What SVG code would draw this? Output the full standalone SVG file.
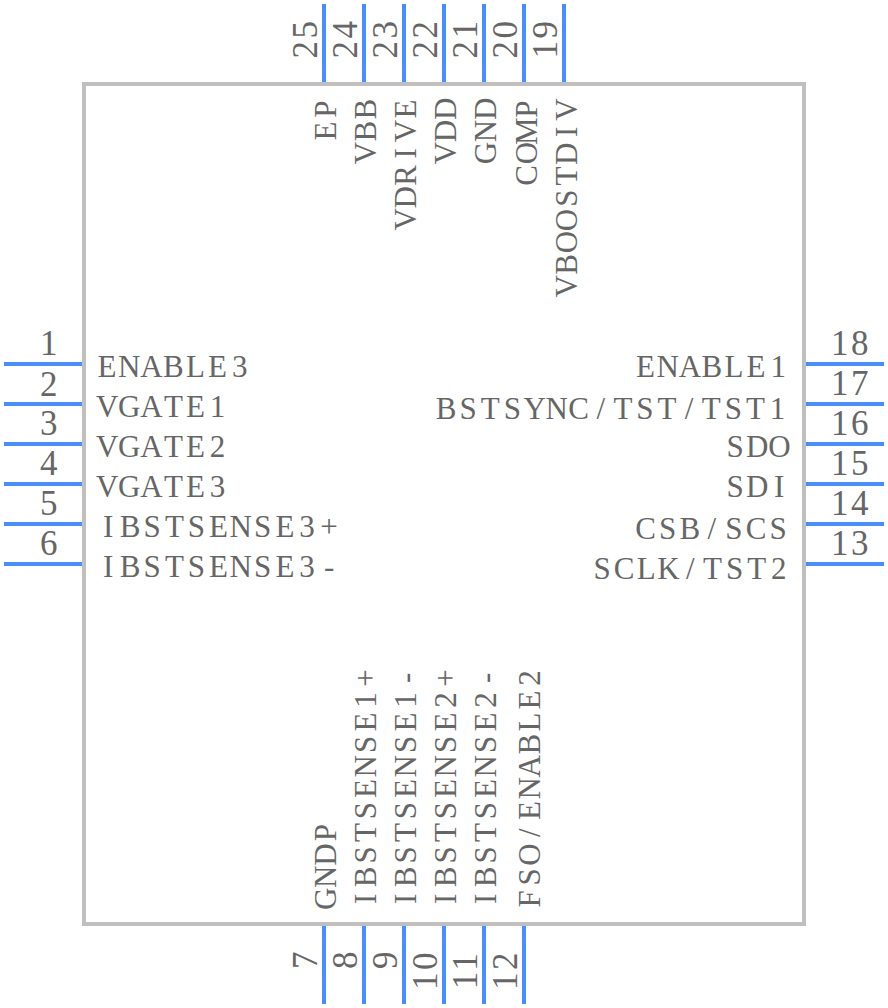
<svg xmlns="http://www.w3.org/2000/svg" width="888" height="1008" viewBox="0 0 888 1008">
<style>
text{font-family:"Liberation Serif",serif;fill:#666}
.l{font-size:31px}
.n{font-size:35px;letter-spacing:2.5px;text-anchor:middle}
.p{stroke:#4a8ff5;stroke-width:4;fill:none}
</style>
<g id="connectors">
<path class="p" d="M4 364H84M4 404H84M4 444H84M4 484H84M4 524H84M4 564H84"/>
<path class="p" d="M804 364H884M804 404H884M804 444H884M804 484H884M804 524H884M804 564H884"/>
<path class="p" d="M324 4V84M364 4V84M404 4V84M444 4V84M484 4V84M524 4V84M564 4V84"/>
<path class="p" d="M324 924V1004M364 924V1004M404 924V1004M444 924V1004M484 924V1004M524 924V1004"/>
</g>
<g id="body"><rect x="84" y="84" width="720" height="840" fill="none" stroke="#bfbfbf" stroke-width="4"/></g>
<g id="left">
<text class="n" x="50" y="355">1</text><text class="l" transform="translate(96 377)" x="1.6 22.1 44.2 67 90 112.1 135.9">ENABLE3</text>
<text class="n" x="50" y="396">2</text><text class="l" transform="translate(96 417)" x="0 22.1 44.2 67.9 90 113.8">VGATE1</text>
<text class="n" x="50" y="435">3</text><text class="l" transform="translate(96 457)" x="0 22.1 44.2 67.9 90 113.8">VGATE2</text>
<text class="n" x="50" y="475">4</text><text class="l" transform="translate(96 497)" x="0 22.1 44.2 67.9 90 113.8">VGATE3</text>
<text class="n" x="50" y="515">5</text><text class="l" transform="translate(97 537)" x="5.9 22.8 46.6 67.9 90.8 112.1 132.6 157.1 178.4 202.2 223.3">IBSTSENSE3+</text>
<text class="n" x="50" y="555">6</text><text class="l" transform="translate(97 577)" x="5.9 22.8 46.6 67.9 90.8 112.1 132.6 157.1 178.4 202.2 226.9">IBSTSENSE3-</text>
</g>
<g id="right">
<text class="n" x="851" y="355">18</text><text class="l" transform="translate(634.5 377)" x="1.6 22.1 44.2 67 90 112.1 135.9">ENABLE1</text>
<text class="n" x="851" y="395">17</text><text class="l" transform="translate(435 418.5)" x=".7 24.5 45.8 68.7 88.4 110.5 133.3 161.4 178.4 201.3 222.6 249.8 266.8 289.7 311 334.8">BSTSYNC/TST/TST1</text>
<text class="n" x="851" y="435">16</text><text class="l" transform="translate(724 457)" x="2.4 22.1 44.2">SDO</text>
<text class="n" x="851" y="475">15</text><text class="l" transform="translate(724 497)" x="2.4 22.1 50.1">SDI</text>
<text class="n" x="851" y="515">14</text><text class="l" transform="translate(634.5 539)" x=".7 24.5 44.9 73 90.8 111.2 135">CSB/SCS</text>
<text class="n" x="851" y="555">13</text><text class="l" transform="translate(591 579)" x="2.4 22.8 45.8 66.3 95.1 112.1 135 156.3 180.1">SCLK/TST2</text>
</g>
<g id="top">
<text class="n" transform="translate(317 38.500) rotate(-90)">25</text><text class="l" transform="translate(336 142.200) rotate(-90)" x="1.6 24.5">EP</text>
<text class="n" transform="translate(357 38.500) rotate(-90)">24</text><text class="l" transform="translate(376 164.300) rotate(-90)" x="0 22.8 44.9">VBB</text>
<text class="n" transform="translate(397 38.500) rotate(-90)">23</text><text class="l" transform="translate(416 230.600) rotate(-90)" x="0 22.1 44.9 72.2 88.4 112.1">VDRIVE</text>
<text class="n" transform="translate(437 38.500) rotate(-90)">22</text><text class="l" transform="translate(456 164.300) rotate(-90)" x="0 22.1 44.2">VDD</text>
<text class="n" transform="translate(477 38.500) rotate(-90)">21</text><text class="l" transform="translate(496 164.300) rotate(-90)" x="0 22.1 44.2">GND</text>
<text class="n" transform="translate(517 38.500) rotate(-90)">20</text><text class="l" transform="translate(537 186.400) rotate(-90)" x=".7 22.1 41.5 68.7">COMP</text>
<text class="n" transform="translate(557 38.500) rotate(-90)">19</text><text class="l" transform="translate(577 297.500) rotate(-90)" x="0 22.8 44.2 66.3 90.8 112.1 132.6 160.6 176.8">VBOOSTDIV</text>
</g>
<g id="bottom">
<text class="n" transform="translate(317 959) rotate(-90)">7</text><text class="l" transform="translate(336 910) rotate(-90)" x="0 22.1 44.2 68.7">GNDP</text>
<text class="n" transform="translate(357 959) rotate(-90)">8</text><text class="l" transform="translate(376 910) rotate(-90)" x="5.9 22.8 46.6 67.9 90.8 112.1 132.6 157.1 178.4 202.2 223.3">IBSTSENSE1+</text>
<text class="n" transform="translate(397 959) rotate(-90)">9</text><text class="l" transform="translate(416 910) rotate(-90)" x="5.9 22.8 46.6 67.9 90.8 112.1 132.6 157.1 178.4 202.2 226.9">IBSTSENSE1-</text>
<text class="n" transform="translate(437 970) rotate(-90)">10</text><text class="l" transform="translate(456 910) rotate(-90)" x="5.9 22.8 46.6 67.9 90.8 112.1 132.6 157.1 178.4 202.2 223.3">IBSTSENSE2+</text>
<text class="n" transform="translate(477 970) rotate(-90)">11</text><text class="l" transform="translate(496 910) rotate(-90)" x="5.9 22.8 46.6 67.9 90.8 112.1 132.6 157.1 178.4 202.2 226.9">IBSTSENSE2-</text>
<text class="n" transform="translate(517 970) rotate(-90)">12</text><text class="l" transform="translate(540 910) rotate(-90)" x="2.4 24.5 44.2 73 90 110.5 132.6 155.4 178.4 200.5 224.3">FSO/ENABLE2</text>
</g>
</svg>
